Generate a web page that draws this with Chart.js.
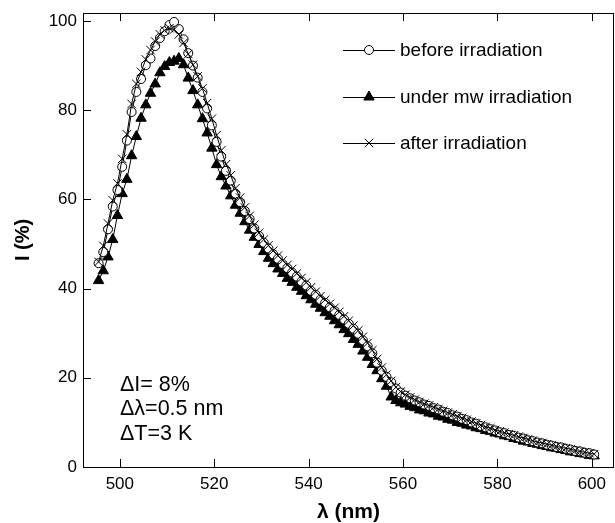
<!DOCTYPE html>
<html>
<head>
<meta charset="utf-8">
<script src="https://cdn.jsdelivr.net/npm/chart.js@4.4.1/dist/chart.umd.min.js"></script>
<style>
  html, body { margin: 0; padding: 0; background: #fff; }
  #wrap { width: 615px; height: 523px; position: relative; }
</style>
</head>
<body>
<div id="wrap"><canvas id="spectrum"></canvas></div>
<script>
// wavelength (nm), one reading every nm
var wavelength = [
  495.5, 496.5, 497.5, 498.5, 499.5, 500.5, 501.5, 502.5, 503.5, 504.5,
  505.5, 506.5, 507.5, 508.5, 509.5, 510.5, 511.5, 512.5, 513.5, 514.5,
  515.5, 516.5, 517.5, 518.5, 519.5, 520.5, 521.5, 522.5, 523.5, 524.5,
  525.5, 526.5, 527.5, 528.5, 529.5, 530.5, 531.5, 532.5, 533.5, 534.5,
  535.5, 536.5, 537.5, 538.5, 539.5, 540.5, 541.5, 542.5, 543.5, 544.5,
  545.5, 546.5, 547.5, 548.5, 549.5, 550.5, 551.5, 552.5, 553.5, 554.5,
  555.5, 556.5, 557.5, 558.5, 559.5, 560.5, 561.5, 562.5, 563.5, 564.5,
  565.5, 566.5, 567.5, 568.5, 569.5, 570.5, 571.5, 572.5, 573.5, 574.5,
  575.5, 576.5, 577.5, 578.5, 579.5, 580.5, 581.5, 582.5, 583.5, 584.5,
  585.5, 586.5, 587.5, 588.5, 589.5, 590.5, 591.5, 592.5, 593.5, 594.5,
  595.5, 596.5, 597.5, 598.5, 599.5, 600.5
];

var beforeIrr = [
  45.7, 48.2, 53.3, 58.4, 62.1, 67.3, 73.2, 79.6, 84.1, 87.0,
  90.1, 91.6, 94.4, 96.2, 97.7, 99.1, 99.8, 98.2, 95.9, 92.8,
  90.0, 87.3, 84.1, 80.4, 76.6, 72.9, 69.6, 66.4, 64.2, 61.3,
  59.4, 57.4, 55.6, 53.5, 51.8, 50.3, 49.0, 47.7, 46.7, 45.5,
  44.6, 43.6, 42.7, 41.6, 40.7, 39.5, 38.6, 37.5, 36.8, 35.8,
  35.0, 34.1, 33.1, 32.1, 31.0, 29.9, 28.4, 27.1, 25.5, 23.4,
  21.6, 20.2, 19.0, 17.6, 16.7, 16.0, 15.4, 14.9, 14.5, 14.0,
  13.7, 13.2, 12.9, 12.4, 12.1, 11.6, 11.3, 10.8, 10.5, 10.0,
  9.7, 9.2, 8.9, 8.5, 8.2, 7.8, 7.6, 7.2, 7.0, 6.6,
  6.4, 6.0, 5.8, 5.5, 5.3, 5.0, 4.8, 4.5, 4.4, 4.1,
  3.9, 3.6, 3.5, 3.2, 3.1, 2.8
];

var underMw = [
  41.8, 44.0, 47.1, 51.0, 56.4, 61.3, 64.5, 69.8, 74.1, 78.2,
  81.2, 83.8, 85.9, 88.4, 89.8, 90.7, 91.0, 91.6, 90.2, 87.2,
  84.4, 81.2, 78.1, 74.9, 71.5, 67.8, 65.1, 63.0, 60.8, 58.7,
  56.9, 55.0, 53.1, 51.5, 49.9, 48.3, 46.8, 45.6, 44.4, 43.4,
  42.3, 41.4, 40.3, 39.4, 38.4, 37.5, 36.5, 35.6, 34.6, 33.8,
  32.8, 31.9, 30.8, 29.9, 28.6, 27.5, 26.0, 24.6, 23.0, 21.6,
  19.8, 18.1, 15.7, 14.9, 14.4, 14.1, 13.6, 13.3, 12.8, 12.6,
  12.1, 11.9, 11.4, 11.2, 10.7, 10.5, 10.0, 9.8, 9.4, 9.2,
  8.8, 8.6, 8.2, 8.0, 7.6, 7.4, 7.0, 6.8, 6.4, 6.2,
  5.8, 5.6, 5.3, 5.1, 4.8, 4.6, 4.3, 4.2, 3.9, 3.7,
  3.4, 3.3, 3.0, 2.9, 2.6, 2.5
];

var afterIrr = [
  46.0, 49.6, 54.6, 59.8, 63.6, 69.1, 74.6, 81.4, 85.9, 88.6,
  91.4, 93.5, 95.4, 97.0, 97.9, 98.4, 98.1, 97.0, 95.1, 92.6,
  90.2, 87.6, 84.9, 81.6, 78.1, 74.4, 71.0, 67.9, 65.4, 62.5,
  60.4, 58.2, 56.3, 54.3, 52.5, 51.0, 49.7, 48.5, 47.4, 46.3,
  45.3, 44.4, 43.4, 42.4, 41.4, 40.3, 39.3, 38.3, 37.5, 36.6,
  35.7, 34.8, 33.8, 32.8, 31.7, 30.6, 29.2, 27.8, 26.2, 24.2,
  22.3, 20.7, 19.3, 17.9, 16.9, 16.2, 15.6, 15.1, 14.6, 14.2,
  13.8, 13.4, 13.0, 12.6, 12.2, 11.8, 11.4, 11.0, 10.6, 10.2,
  9.8, 9.4, 9.0, 8.7, 8.3, 8.0, 7.7, 7.4, 7.1, 6.8,
  6.5, 6.2, 5.9, 5.6, 5.4, 5.1, 4.9, 4.6, 4.4, 4.2,
  4.0, 3.7, 3.5, 3.3, 3.1, 2.9
];

var xTicks = [500, 520, 540, 560, 580, 600];
var yTicks = [0, 20, 40, 60, 80, 100];
var notes = ['\u0394I= 8%', '\u0394\u03bb=0.5 nm', '\u0394T=3 K'];

function toPoints(ys){
  return wavelength.map(function(x, i){ return {x: x, y: ys[i]}; });
}

var FONT = "'Liberation Sans', Arial, Helvetica, sans-serif";

// box round the plot, inward ticks, legend and the notes
var framePlugin = {
  id: 'frame',
  afterDraw: function(chart){
    var ctx = chart.ctx, a = chart.chartArea;
    var xs = chart.scales.x, ys = chart.scales.y;
    ctx.save();
    ctx.strokeStyle = '#000';
    ctx.lineWidth = 1;
    ctx.strokeRect(a.left + 0.5, a.top + 0.5, a.right - a.left - 1, a.bottom - a.top);
    ctx.beginPath();
    xTicks.forEach(function(v){
      var px = Math.round(xs.getPixelForValue(v)) + 0.5;
      ctx.moveTo(px, a.bottom); ctx.lineTo(px, a.bottom - 8);
      ctx.moveTo(px, a.top); ctx.lineTo(px, a.top + 8);
    });
    yTicks.forEach(function(v){
      var py = Math.round(ys.getPixelForValue(v)) + 0.5;
      ctx.moveTo(a.left, py); ctx.lineTo(a.left + 8, py);
    });
    ctx.stroke();

    // legend
    var rows = [37, 84, 130];
    ctx.font = '19px ' + FONT;
    ctx.textBaseline = 'middle';
    ctx.fillStyle = '#000';
    chart.data.datasets.forEach(function(ds, i){
      var y = a.top + rows[i];
      var x0 = a.left + 260, x1 = a.left + 312;
      ctx.beginPath();
      ctx.moveTo(x0, y + 0.5); ctx.lineTo(x1, y + 0.5);
      ctx.strokeStyle = '#000';
      ctx.lineWidth = 1;
      ctx.stroke();
      ctx.fillStyle = ds.pointBackgroundColor;
      ctx.strokeStyle = ds.pointBorderColor;
      Chart.helpers.drawPoint(ctx, {
        pointStyle: ds.pointStyle, radius: ds.pointRadius,
        borderWidth: ds.pointBorderWidth, rotation: 0
      }, (x0 + x1) / 2, y);
      ctx.fillStyle = '#000';
      ctx.fillText(ds.label, a.left + 317, y + 1);
    });

    // measurement notes
    ctx.font = '21.5px ' + FONT;
    notes.forEach(function(t, i){
      ctx.fillText(t, a.left + 37, a.top + 372 + i * 24.5);
    });
    ctx.restore();
  }
};

new Chart(document.getElementById('spectrum').getContext('2d'), {
  type: 'scatter',
  plugins: [framePlugin],
  data: {
    datasets: [{
      label: 'before irradiation',
      data: toPoints(beforeIrr),
      showLine: true,
      borderColor: '#000',
      borderWidth: 1,
      pointStyle: 'circle',
      pointRadius: 4.5,
      pointBorderWidth: 1,
      pointBackgroundColor: '#fff',
      pointBorderColor: '#000',
      order: 1
    },{
      label: 'under mw irradiation',
      data: toPoints(underMw),
      showLine: true,
      borderColor: '#000',
      borderWidth: 1,
      pointStyle: 'triangle',
      pointRadius: 6,
      pointBorderWidth: 1,
      pointBackgroundColor: '#000',
      pointBorderColor: '#000',
      order: 2
    },{
      label: 'after irradiation',
      data: toPoints(afterIrr),
      showLine: true,
      borderColor: '#000',
      borderWidth: 1,
      pointStyle: 'crossRot',
      pointRadius: 6,
      pointBorderWidth: 1,
      pointBackgroundColor: '#000',
      pointBorderColor: '#000',
      order: 0
    }]
  },
  options: {
    responsive: true,
    maintainAspectRatio: false,
    animation: false,
    layout: { autoPadding: false, padding: { left: 0, right: 1, top: 13, bottom: 0 } },
    plugins: {
      legend: { display: false },
      tooltip: { enabled: false }
    },
    scales: {
      x: {
        type: 'linear',
        min: 492.2,
        max: 604.7,
        afterFit: function(s){ s.height = 56; s.paddingLeft = 0; s.paddingRight = 0; },
        afterBuildTicks: function(s){ s.ticks = xTicks.map(function(v){ return {value: v}; }); },
        ticks: { color: '#000', padding: 7, font: { family: FONT, size: 17 } },
        grid: { drawOnChartArea: false, drawTicks: false },
        border: { display: false },
        title: {
          display: true,
          text: '\u03bb (nm)',
          color: '#000',
          padding: { top: 0, bottom: 0 },
          font: { family: FONT, size: 21, weight: 'bold', lineHeight: 1.0 }
        }
      },
      y: {
        min: 0,
        max: 101.8,
        afterFit: function(s){ s.width = 83; s.paddingTop = 0; s.paddingBottom = 0; },
        afterBuildTicks: function(s){ s.ticks = yTicks.map(function(v){ return {value: v}; }); },
        ticks: { color: '#000', padding: 6, font: { family: FONT, size: 17 } },
        grid: { drawOnChartArea: false, drawTicks: false },
        border: { display: false },
        title: {
          display: true,
          text: 'I (%)',
          color: '#000',
          padding: { top: 11, bottom: 0 },
          font: { family: FONT, size: 20, weight: 'bold', lineHeight: 1.2 }
        }
      }
    }
  }
});
</script>
</body>
</html>
